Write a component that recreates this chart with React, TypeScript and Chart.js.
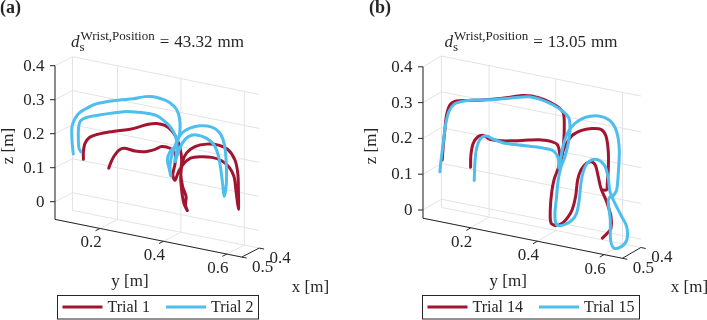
import React, { useEffect, useRef } from "react";
import { Chart, registerables } from "chart.js";

Chart.register(...registerables);

const RED = "#A2142F";
const BLUE = "#4DBEEE";
const INK = "#262626";
const GRID = "#e3e3e3";
const SERIF = '"Liberation Serif", "Times New Roman", serif';

const xTicks = [0.4, 0.5];
const yTicks = [0.2, 0.4, 0.6];
const zTicks = [0, 0.1, 0.2, 0.3, 0.4];

// Wrist samples as [y, z] in metres, drawn on the plane x = traceDepth.
const traceDepth = 0.45;

const trial1: number[][][] = [[
  [0.120, 0.123], [0.120, 0.146], [0.125, 0.171], [0.139, 0.191], [0.162, 0.204], [0.193, 0.216],
  [0.230, 0.228], [0.267, 0.239], [0.299, 0.253], [0.325, 0.265], [0.351, 0.272], [0.377, 0.271],
  [0.398, 0.260], [0.414, 0.240], [0.425, 0.213], [0.430, 0.180], [0.427, 0.140], [0.433, 0.102],
  [0.444, 0.074], [0.442, 0.049], [0.448, 0.034], [0.437, 0.053], [0.430, 0.091], [0.427, 0.130],
  [0.433, 0.175], [0.446, 0.204], [0.472, 0.227], [0.509, 0.241], [0.546, 0.245], [0.577, 0.237],
  [0.598, 0.211], [0.607, 0.174], [0.609, 0.125], [0.609, 0.068], [0.601, 0.124], [0.595, 0.162],
  [0.580, 0.186], [0.556, 0.201], [0.525, 0.205], [0.488, 0.200], [0.458, 0.190], [0.435, 0.168],
  [0.420, 0.143], [0.409, 0.116], [0.402, 0.130], [0.409, 0.165], [0.409, 0.195], [0.393, 0.207],
  [0.367, 0.207], [0.346, 0.195], [0.314, 0.182], [0.283, 0.178], [0.251, 0.180], [0.233, 0.172],
  [0.217, 0.151], [0.206, 0.129], [0.200, 0.112],
]];

const trial2: number[][][] = [[
  [0.088, 0.133], [0.084, 0.173], [0.084, 0.212], [0.094, 0.239], [0.109, 0.259], [0.130, 0.275],
  [0.157, 0.292], [0.193, 0.306], [0.235, 0.319], [0.278, 0.331], [0.314, 0.344], [0.341, 0.349],
  [0.367, 0.347], [0.393, 0.341], [0.414, 0.325], [0.423, 0.301], [0.425, 0.272], [0.420, 0.241],
  [0.409, 0.215], [0.393, 0.197], [0.385, 0.171], [0.391, 0.145], [0.396, 0.126], [0.393, 0.151],
  [0.398, 0.183], [0.414, 0.230], [0.430, 0.258], [0.454, 0.277], [0.488, 0.291], [0.525, 0.294],
  [0.549, 0.283], [0.561, 0.263], [0.568, 0.230], [0.571, 0.186], [0.571, 0.137], [0.564, 0.097],
  [0.559, 0.135], [0.553, 0.178], [0.545, 0.216], [0.532, 0.243], [0.509, 0.258], [0.477, 0.262],
  [0.451, 0.252], [0.433, 0.231], [0.420, 0.202], [0.409, 0.171], [0.416, 0.216], [0.409, 0.249],
  [0.393, 0.271], [0.372, 0.286], [0.351, 0.295], [0.320, 0.296], [0.283, 0.293], [0.246, 0.287],
  [0.204, 0.274], [0.162, 0.260], [0.130, 0.248], [0.111, 0.235], [0.105, 0.216], [0.104, 0.182],
  [0.106, 0.153], [0.112, 0.144],
]];

const trial14: number[][][] = [
  [
    [0.087, 0.130], [0.090, 0.168], [0.095, 0.216], [0.100, 0.258], [0.110, 0.288], [0.130, 0.303],
    [0.165, 0.311], [0.205, 0.320], [0.245, 0.330], [0.285, 0.342], [0.325, 0.355], [0.355, 0.359],
    [0.395, 0.356], [0.430, 0.345], [0.450, 0.330], [0.453, 0.292], [0.451, 0.245], [0.445, 0.202],
    [0.433, 0.167], [0.422, 0.137], [0.415, 0.099], [0.411, 0.051], [0.413, 0.016], [0.427, 0.011],
    [0.447, 0.021], [0.465, 0.043], [0.477, 0.065], [0.487, 0.103], [0.493, 0.150], [0.503, 0.180],
    [0.520, 0.202], [0.535, 0.209], [0.547, 0.200], [0.555, 0.171], [0.563, 0.140], [0.580, 0.106],
    [0.593, 0.067], [0.593, 0.034], [0.580, 0.016], [0.567, 0.002],
  ],
  [
    [0.172, 0.126], [0.173, 0.160], [0.180, 0.194], [0.195, 0.216], [0.210, 0.222], [0.230, 0.215],
    [0.265, 0.217], [0.305, 0.225], [0.345, 0.234], [0.385, 0.242], [0.415, 0.243], [0.433, 0.237],
    [0.440, 0.206], [0.437, 0.177], [0.443, 0.206], [0.455, 0.236], [0.475, 0.270], [0.503, 0.290],
    [0.535, 0.302], [0.563, 0.305], [0.578, 0.289], [0.585, 0.247], [0.585, 0.196], [0.582, 0.158],
    [0.580, 0.139], [0.565, 0.136],
  ],
];

const trial15: number[][][] = [
  [
    [0.080, 0.096], [0.083, 0.125], [0.090, 0.177], [0.097, 0.230], [0.107, 0.269], [0.123, 0.293],
    [0.150, 0.306], [0.195, 0.318], [0.245, 0.329], [0.295, 0.342], [0.345, 0.355], [0.385, 0.354],
    [0.420, 0.346], [0.450, 0.333], [0.467, 0.318], [0.470, 0.286], [0.465, 0.248], [0.455, 0.208],
    [0.443, 0.176], [0.435, 0.140], [0.430, 0.092], [0.425, 0.045], [0.427, 0.019], [0.435, 0.012],
    [0.455, 0.019], [0.477, 0.036], [0.490, 0.057], [0.498, 0.096], [0.503, 0.143], [0.510, 0.177],
    [0.520, 0.200], [0.535, 0.214], [0.555, 0.218], [0.575, 0.205], [0.585, 0.172], [0.590, 0.136],
    [0.605, 0.106], [0.625, 0.073], [0.640, 0.048], [0.641, 0.012], [0.625, -0.011], [0.603, -0.020],
    [0.592, 0.001], [0.591, 0.057], [0.585, 0.112], [0.595, 0.128],
  ],
  [
    [0.183, 0.091], [0.185, 0.139], [0.190, 0.182], [0.203, 0.213], [0.220, 0.222], [0.240, 0.217],
    [0.275, 0.212], [0.315, 0.215], [0.355, 0.218], [0.390, 0.220], [0.420, 0.218], [0.435, 0.200],
    [0.437, 0.173], [0.445, 0.216], [0.453, 0.250], [0.465, 0.280], [0.485, 0.307], [0.515, 0.329],
    [0.555, 0.341], [0.590, 0.334], [0.610, 0.307], [0.618, 0.258], [0.615, 0.192], [0.610, 0.144],
    [0.600, 0.126],
  ],
];

type Limits = { xFront: number; xBack: number; yMin: number; yMax: number; zMin: number; zMax: number };
// Oblique view: pixel origin of (xFront, yMin, 0) and pixels per metre along y, z and (xFront - x).
type View = { ox: number; oy: number; yPx: [number, number]; zPx: number; xPx: [number, number] };
type Series = { label: string; color: string; strokes: number[][][] };
type Panel = {
  tag: string;
  tagX: number;
  distance: number;
  limits: Limits;
  view: View;
  centerX: number;
  zLabel: [number, number];
  yLabel: [number, number];
  xLabel: [number, number];
  series: Series[];
  width: number;
};

const HEIGHT = 320;

const panelA: Panel = {
  tag: "(a)",
  tagX: 0,
  distance: 43.32,
  limits: { xFront: 0.5, xBack: 0.4, yMin: 0.058, yMax: 0.647, zMin: -0.052, zMax: 0.4 },
  view: { ox: 55, oy: 201.7, yPx: [317, 64], zPx: 340, xPx: [175, -90] },
  centerX: 157.5,
  zLabel: [9, 146],
  yLabel: [130, 282],
  xLabel: [310.5, 288],
  series: [
    { label: "Trial 1", color: RED, strokes: trial1 },
    { label: "Trial 2", color: BLUE, strokes: trial2 },
  ],
  width: 354,
};

const panelB: Panel = {
  tag: "(b)",
  tagX: 15,
  distance: 13.05,
  limits: { xFront: 0.5, xBack: 0.4, yMin: 0.057, yMax: 0.655, zMin: -0.023, zMax: 0.4 },
  view: { ox: 69, oy: 210, yPx: [333.5, 67], zPx: 358, xPx: [184, -108] },
  centerX: 177,
  zLabel: [18, 146],
  yLabel: [154.2, 282],
  xLabel: [335.5, 288],
  series: [
    { label: "Trial 14", color: RED, strokes: trial14 },
    { label: "Trial 15", color: BLUE, strokes: trial15 },
  ],
  width: 353,
};

// Map a 3-D point to the chart's 2-D value plane (units: metres along y / z).
function toPlane(p: Panel, x: number, y: number, z: number) {
  const { limits: L, view: V } = p;
  const dy = y - L.yMin;
  const dx = L.xFront - x;
  return {
    x: dy + (dx * V.xPx[0]) / V.yPx[0],
    y: z - (dy * V.yPx[1]) / V.zPx - (dx * V.xPx[1]) / V.zPx,
  };
}

function fmt(v: number) {
  return String(Math.round(v * 10) / 10);
}

function drawFrame(chart: any, p: Panel) {
  const ctx: CanvasRenderingContext2D = chart.ctx;
  const sx = chart.scales.x;
  const sy = chart.scales.y;
  const L = p.limits;
  const P = (x: number, y: number, z: number): [number, number] => {
    const q = toPlane(p, x, y, z);
    return [sx.getPixelForValue(q.x), sy.getPixelForValue(q.y)];
  };
  const seg = (a: [number, number, number], b: [number, number, number]) => {
    const [x1, y1] = P(a[0], a[1], a[2]);
    const [x2, y2] = P(b[0], b[1], b[2]);
    ctx.beginPath();
    ctx.moveTo(x1, y1);
    ctx.lineTo(x2, y2);
    ctx.stroke();
  };
  const unit = (a: [number, number], b: [number, number], len: number): [number, number] => {
    const dx = b[0] - a[0];
    const dy = b[1] - a[1];
    const n = Math.hypot(dx, dy) || 1;
    return [(dx / n) * len, (dy / n) * len];
  };

  ctx.save();
  ctx.lineWidth = 1;
  ctx.strokeStyle = GRID;
  // back wall
  zTicks.forEach((z) => seg([L.xBack, L.yMin, z], [L.xBack, L.yMax, z]));
  yTicks.forEach((y) => seg([L.xBack, y, L.zMin], [L.xBack, y, L.zMax]));
  // side wall
  zTicks.forEach((z) => seg([L.xFront, L.yMin, z], [L.xBack, L.yMin, z]));
  xTicks.forEach((x) => seg([x, L.yMin, L.zMin], [x, L.yMin, L.zMax]));
  // floor
  yTicks.forEach((y) => seg([L.xFront, y, L.zMin], [L.xBack, y, L.zMin]));
  xTicks.forEach((x) => seg([x, L.yMin, L.zMin], [x, L.yMax, L.zMin]));

  // axis lines
  ctx.strokeStyle = INK;
  seg([L.xFront, L.yMin, L.zMin], [L.xFront, L.yMin, L.zMax]);
  seg([L.xFront, L.yMin, L.zMin], [L.xFront, L.yMax, L.zMin]);
  seg([L.xFront, L.yMax, L.zMin], [L.xBack, L.yMax, L.zMin]);

  ctx.fillStyle = INK;
  ctx.font = `17px ${SERIF}`;

  // z ticks
  ctx.textAlign = "right";
  ctx.textBaseline = "middle";
  zTicks.forEach((z) => {
    const [px, py] = P(L.xFront, L.yMin, z);
    ctx.beginPath();
    ctx.moveTo(px, py);
    ctx.lineTo(px - 5, py);
    ctx.stroke();
    ctx.fillText(fmt(z), px - 10.5, py + 0.5);
  });

  // y ticks
  ctx.textAlign = "center";
  yTicks.forEach((y) => {
    const a = P(L.xFront, y, L.zMin);
    const d = unit(P(L.xBack, y, L.zMin), a, 5);
    ctx.beginPath();
    ctx.moveTo(a[0], a[1]);
    ctx.lineTo(a[0] + d[0], a[1] + d[1]);
    ctx.stroke();
    ctx.fillText(fmt(y), a[0] - 9, a[1] + 14.5);
  });

  // x ticks
  xTicks.forEach((x) => {
    const a = P(x, L.yMax, L.zMin);
    const d = unit(P(x, L.yMin, L.zMin), a, 5);
    ctx.beginPath();
    ctx.moveTo(a[0], a[1]);
    ctx.lineTo(a[0] + d[0], a[1] + d[1]);
    ctx.stroke();
    ctx.fillText(fmt(x), a[0] + 21, a[1] + 10.5);
  });

  // axis titles
  ctx.fillText("y [m]", p.yLabel[0], p.yLabel[1]);
  ctx.fillText("x [m]", p.xLabel[0], p.xLabel[1]);
  ctx.save();
  ctx.translate(p.zLabel[0], p.zLabel[1]);
  ctx.rotate(-Math.PI / 2);
  ctx.fillText("z [m]", 0, 0);
  ctx.restore();

  ctx.restore();
}

function drawTitle(ctx: CanvasRenderingContext2D, p: Panel) {
  const base = 47;
  const main = `17px ${SERIF}`;
  const italic = `italic 17px ${SERIF}`;
  const small = `13px ${SERIF}`;
  const num = p.distance.toFixed(2);
  ctx.save();
  ctx.fillStyle = INK;
  ctx.textAlign = "left";
  ctx.textBaseline = "alphabetic";
  ctx.font = italic;
  const wd = ctx.measureText("d").width;
  ctx.font = small;
  const wsup = ctx.measureText("Wrist,Position").width;
  ctx.font = main;
  const weq = ctx.measureText("=").width;
  const wnum = ctx.measureText(num).width;
  const wmm = ctx.measureText("mm").width;
  const sp = 5;
  const total = wd + 1 + wsup + sp + weq + sp + wnum + sp + wmm;
  let x = p.centerX - total / 2;
  ctx.font = italic;
  ctx.fillText("d", x, base);
  x += wd + 1;
  ctx.font = small;
  ctx.fillText("Wrist,Position", x, base - 7.5);
  ctx.fillText("s", x - 1, base + 4);
  x += wsup + sp;
  ctx.font = main;
  ctx.fillText("=", x, base);
  x += weq + sp;
  ctx.fillText(num, x, base);
  x += wnum + sp;
  ctx.fillText("mm", x, base);

  ctx.font = `bold 18px ${SERIF}`;
  ctx.fillText(p.tag, p.tagX, 13);
  ctx.restore();
}

function drawLegend(ctx: CanvasRenderingContext2D, p: Panel) {
  ctx.save();
  ctx.font = `16px ${SERIF}`;
  const pad = 5;
  const sample = 40;
  const gap = 5;
  const between = 16;
  const widths = p.series.map((s) => ctx.measureText(s.label).width);
  const total =
    pad * 2 +
    p.series.reduce((acc, _s, i) => acc + sample + gap + widths[i], 0) +
    between * (p.series.length - 1);
  const left = Math.round(p.centerX - total / 2) + 0.5;
  const top = 295.5;
  const h = 23.5;
  const mid = 307;
  ctx.strokeStyle = INK;
  ctx.lineWidth = 1;
  ctx.strokeRect(left, top, Math.round(total), h);
  let cx = left + pad;
  p.series.forEach((s, i) => {
    ctx.strokeStyle = s.color;
    ctx.lineWidth = 3;
    ctx.beginPath();
    ctx.moveTo(cx, mid);
    ctx.lineTo(cx + sample, mid);
    ctx.stroke();
    cx += sample + gap;
    ctx.fillStyle = INK;
    ctx.textAlign = "left";
    ctx.textBaseline = "middle";
    ctx.fillText(s.label, cx, mid + 0.5);
    cx += widths[i] + between;
  });
  ctx.restore();
}

function PanelChart({ panel, left }: { panel: Panel; left: number }) {
  const ref = useRef<HTMLCanvasElement>(null);

  useEffect(() => {
    const canvas = ref.current;
    if (!canvas) return;
    const V = panel.view;
    const datasets: any[] = [];
    panel.series.forEach((s, si) => {
      s.strokes.forEach((stroke) => {
        datasets.push({
          label: s.label,
          data: stroke.map(([y, z]) => toPlane(panel, traceDepth, y, z)),
          borderColor: s.color,
          backgroundColor: s.color,
          borderWidth: 3,
          borderCapStyle: "round",
          borderJoinStyle: "round",
          showLine: true,
          pointRadius: 0,
          tension: 0.3,
          order: panel.series.length - 1 - si,
        });
      });
    });

    const chart = new Chart(canvas, {
      type: "scatter",
      data: { datasets },
      options: {
        responsive: false,
        animation: false,
        events: [],
        layout: { padding: 0 },
        scales: {
          x: {
            type: "linear",
            display: false,
            min: -V.ox / V.yPx[0],
            max: (panel.width - V.ox) / V.yPx[0],
          },
          y: {
            type: "linear",
            display: false,
            min: (V.oy - HEIGHT) / V.zPx,
            max: V.oy / V.zPx,
          },
        },
        plugins: {
          legend: { display: false },
          tooltip: { enabled: false },
        },
      },
      plugins: [
        {
          id: "frame3d",
          beforeDatasetsDraw(c: any) {
            drawFrame(c, panel);
          },
          afterDraw(c: any) {
            drawTitle(c.ctx, panel);
            drawLegend(c.ctx, panel);
          },
        },
      ],
    } as any);

    return () => chart.destroy();
  }, [panel]);

  return (
    <canvas
      ref={ref}
      width={panel.width}
      height={HEIGHT}
      style={{ position: "absolute", left, top: 0, width: panel.width, height: HEIGHT }}
    />
  );
}

export default function App() {
  return (
    <div
      style={{
        position: "absolute",
        left: 0,
        top: 0,
        width: 707,
        height: HEIGHT,
        background: "#ffffff",
        overflow: "hidden",
      }}
    >
      <PanelChart panel={panelA} left={0} />
      <PanelChart panel={panelB} left={354} />
    </div>
  );
}
